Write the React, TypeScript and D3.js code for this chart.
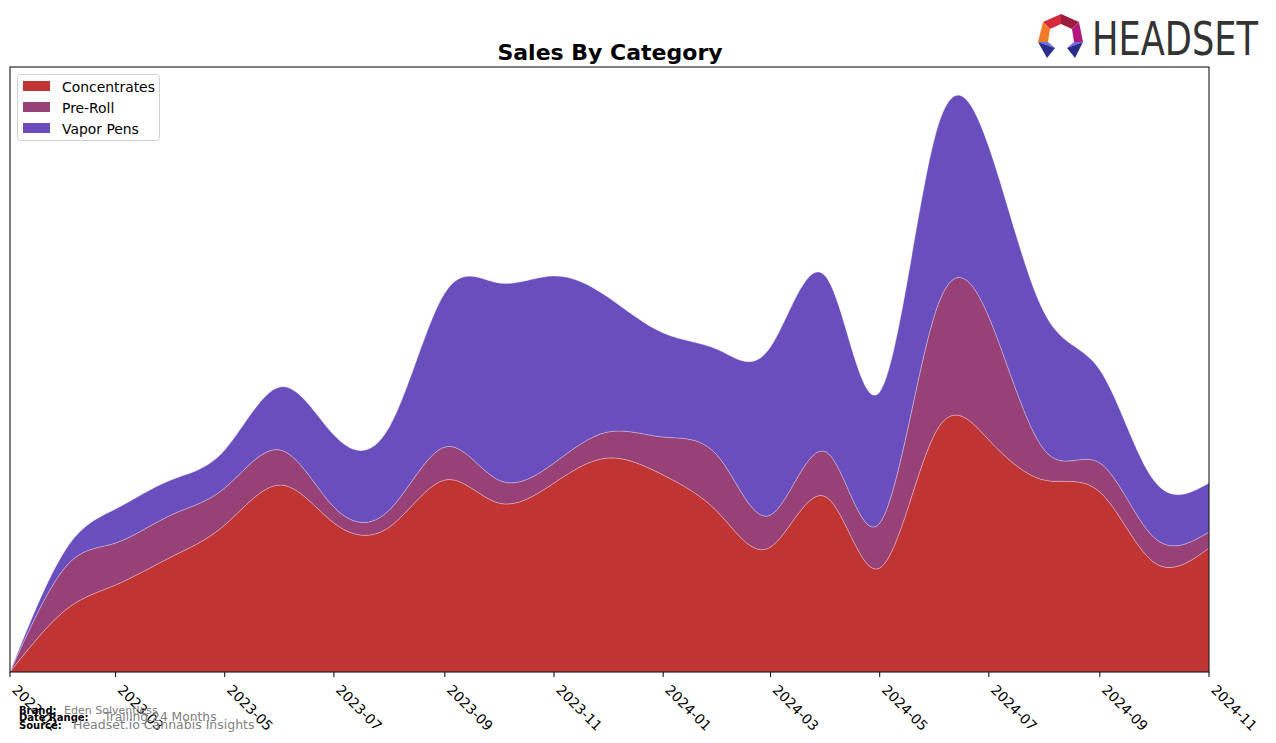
import React from "react";
import * as d3 from "d3";

const months = [
  "2023-01","2023-02","2023-03","2023-04","2023-05","2023-06","2023-07","2023-08",
  "2023-09","2023-10","2023-11","2023-12","2024-01","2024-02","2024-03","2024-04",
  "2024-05","2024-06","2024-07","2024-08","2024-09","2024-10","2024-11",
];
const concentrates = [0, 62, 87, 115, 147, 187, 149, 145, 192, 169, 189, 214, 197, 159, 125, 175, 104, 239, 232, 192, 180, 110, 124];
const preRoll = [0, 43, 42, 42, 37, 35, 16, 17, 33, 23, 20, 26, 38, 56, 32, 45, 45, 120, 123, 30, 29, 25, 16];
const vaporPens = [0, 17, 34, 35, 38, 63, 72, 83, 154, 197, 187, 135, 104, 107, 168, 175, 131, 177, 170, 137, 93, 57, 49];
const seriesNames = ["Concentrates", "Pre-Roll", "Vapor Pens"];
const seriesColors = ["#c13434", "#974177", "#6a4ebd"];
const tickLabels = ["2023-01","2023-03","2023-05","2023-07","2023-09","2023-11","2024-01","2024-03","2024-05","2024-07","2024-09","2024-11"];
const yMax = 605;

const W = 1276, H = 743;
const left = 10, right = 1209, top = 67, bottom = 672;

export default function App() {
  const parse = d3.timeParse("%Y-%m");
  const dates = months.map((m) => parse(m) as Date);
  const x = d3.scaleTime().domain([dates[0], dates[dates.length - 1]]).range([left, right]);
  const y = d3.scaleLinear().domain([0, yMax]).range([bottom, top]);
  const rows = months.map((m, i) => ({ date: dates[i], Concentrates: concentrates[i], "Pre-Roll": preRoll[i], "Vapor Pens": vaporPens[i] }));
  const stack = d3.stack<any>().keys(seriesNames)(rows);
  const area = d3
    .area<any>()
    .x((d) => x(d.data.date))
    .y0((d) => y(d[0]))
    .y1((d) => y(d[1]))
    .curve(d3.curveNatural);

  return (
    <svg width={W} height={H} style={{ position: "absolute", left: 0, top: 0, fontFamily: "DejaVu Sans" }}>
      <rect x={0} y={0} width={W} height={H} fill="#fff" />
      <text x={610} y={60} textAnchor="middle" fontSize={22} fontWeight="bold" fill="#000">Sales By Category</text>
      <defs>
        <clipPath id="plotclip"><rect x={left} y={top} width={right - left} height={bottom - top} /></clipPath>
      </defs>
      <g clipPath="url(#plotclip)">
        {stack.map((s, i) => (
          <path key={i} d={area(s) as string} fill={seriesColors[i]} stroke="#ffffff" strokeOpacity={0.35} strokeWidth={0.8} />
        ))}
      </g>
      <rect x={left} y={top} width={right - left} height={bottom - top} fill="none" stroke="#000" strokeWidth={1} />
      {tickLabels.map((t) => {
        const d = parse(t) as Date;
        const tx = x(d);
        return (
          <g key={t}>
            <line x1={tx} x2={tx} y1={bottom} y2={bottom + 5} stroke="#000" strokeWidth={1} />
            <text transform={`translate(${tx + 4},${bottom + 16}) rotate(45)`} fontSize={13.9} fill="#000" textAnchor="start" dominantBaseline="middle">{t}</text>
          </g>
        );
      })}
      <g>
        <rect x={17.5} y={74.5} width={142} height={66} rx={3} fill="#fff" fillOpacity={0.8} stroke="#d0d0d0" />
        {seriesNames.map((n, i) => (
          <g key={n}>
            <rect x={23} y={81 + i * 21} width={27} height={10} fill={seriesColors[i]} />
            <text x={62} y={88 + i * 21} fontSize={13.9} dominantBaseline="middle" fill="#000">{n}</text>
          </g>
        ))}
      </g>
      <g>
        <text x={19} y={714} fontSize={10} fontWeight="bold">Brand:</text>
        <text x={64} y={714} fontSize={11} fill="#808080">Eden Solventless</text>
        <text x={19} y={721} fontSize={10} fontWeight="bold">Date Range:</text>
        <text x={104} y={721} fontSize={12.3} fill="#808080">Trailing 24 Months</text>
        <text x={19} y={729} fontSize={10} fontWeight="bold">Source:</text>
        <text x={73} y={729} fontSize={12.5} fill="#808080">Headset.io Cannabis Insights</text>
      </g>
      <g>
        <polygon points="1043,22 1061,14 1061,24 1050,29" fill="#d42a3c" />
        <polygon points="1061,14 1079,22 1072,29 1061,24" fill="#9c1c3c" />
        <polygon points="1079,22 1083,42 1074,42 1072,29" fill="#b3197c" />
        <polygon points="1043,22 1050,29 1048,42 1038,42" fill="#f07b2a" />
        <polygon points="1038,42 1048,42 1055,48" fill="#6a6ee6" />
        <polygon points="1038,42 1055,48 1047,58" fill="#2b2d8a" />
        <polygon points="1083,42 1074,42 1067,48" fill="#6a6ee6" />
        <polygon points="1083,42 1067,48 1075,58" fill="#2b2d8a" />
        <text x={1092} y={55} fontSize={46} fill="#333" textLength={166} lengthAdjust="spacingAndGlyphs" fontFamily="DejaVu Sans">HEADSET</text>
      </g>
    </svg>
  );
}
